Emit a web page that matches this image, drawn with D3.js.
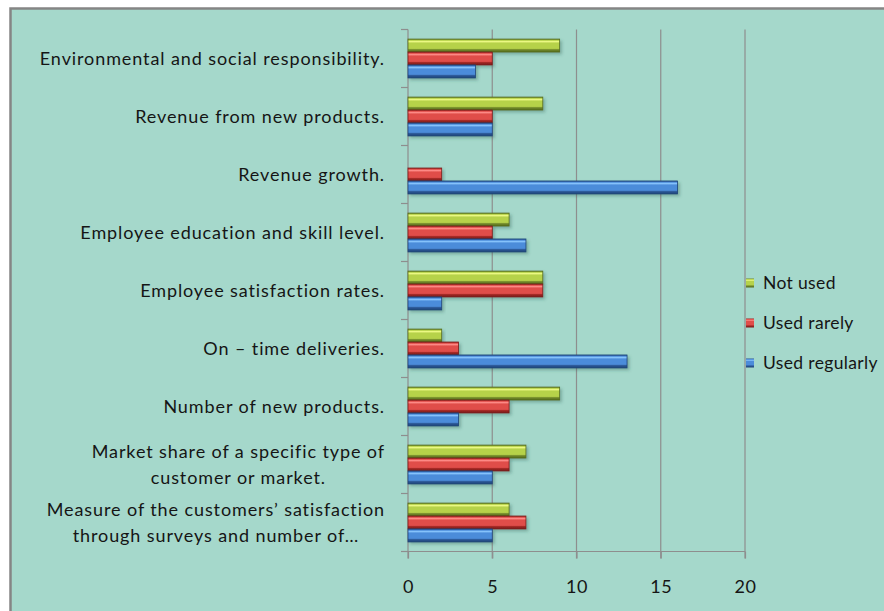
<!DOCTYPE html>
<html>
<head>
<meta charset="utf-8">
<script src="https://cdn.jsdelivr.net/npm/d3@7"></script>
<style>
  html, body { margin: 0; padding: 0; background: #ffffff; }
  svg { display: block; }
  text { font-family: "Lato", "Open Sans", sans-serif; fill: #151515; }
</style>
</head>
<body>
<svg id="chart" width="884" height="611"></svg>
<script>
// Measures (top to bottom), each may wrap to two lines
const categories = [
  ["Environmental and social responsibility."],
  ["Revenue from new products."],
  ["Revenue growth."],
  ["Employee education and skill level."],
  ["Employee satisfaction rates."],
  ["On – time deliveries."],
  ["Number of new products."],
  ["Market share of a specific type of", "customer or market."],
  ["Measure of the customers’ satisfaction", "through surveys and number of…"]
];
const seriesNames = ["Not used", "Used rarely", "Used regularly"];
const notUsed       = [9, 8, 0, 6, 8, 2, 9, 7, 6];
const usedRarely    = [5, 5, 2, 5, 8, 3, 6, 6, 7];
const usedRegularly = [4, 5, 16, 7, 2, 13, 3, 5, 5];
const xTicks = [0, 5, 10, 15, 20];

const seriesValues = [notUsed, usedRarely, usedRegularly];
const palette = [
  { light: "#eefa86", mid: "#b6d24a", dark: "#71892a", edge: "#566c1c" },
  { light: "#ff8e8a", mid: "#e04e4a", dark: "#9e2624", edge: "#7a1a18" },
  { light: "#8cc8ff", mid: "#4c8cda", dark: "#2b5796", edge: "#1f4478" }
];

const labelFont = 18;
const labelSpacing = 0.9;

const svg = d3.select("#chart");
const defs = svg.append("defs");

// Chart panel
svg.append("rect")
  .attr("x", 10.5).attr("y", 8.5)
  .attr("width", 900).attr("height", 700)
  .attr("fill", "#a5d8cb")
  .attr("stroke", "#858585").attr("stroke-width", 2.5);

const plot = { left: 408, right: 745, top: 29.5, bottom: 551.5 };

const x = d3.scaleLinear().domain([0, 20]).range([plot.left, plot.right]);
const y = d3.scaleBand().domain(d3.range(categories.length))
  .range([plot.top, plot.bottom]).paddingInner(0.33).paddingOuter(0.165);
const ySub = d3.scaleBand().domain(d3.range(seriesNames.length))
  .range([0, y.bandwidth()]);

// Bevel gradients for each series
palette.forEach((p, i) => {
  const g = defs.append("linearGradient")
    .attr("id", "bar" + i).attr("x1", 0).attr("y1", 0).attr("x2", 0).attr("y2", 1);
  g.append("stop").attr("offset", "0%").attr("stop-color", p.dark);
  g.append("stop").attr("offset", "10%").attr("stop-color", p.mid);
  g.append("stop").attr("offset", "18%").attr("stop-color", p.light);
  g.append("stop").attr("offset", "32%").attr("stop-color", p.mid);
  g.append("stop").attr("offset", "72%").attr("stop-color", p.mid);
  g.append("stop").attr("offset", "82%").attr("stop-color", p.dark);
  g.append("stop").attr("offset", "100%").attr("stop-color", p.edge);
});
const shadow = defs.append("filter").attr("id", "shadow")
  .attr("x", "-5%").attr("y", "-30%").attr("width", "115%").attr("height", "180%");
shadow.append("feDropShadow").attr("dx", 2).attr("dy", 2).attr("stdDeviation", 1.6)
  .attr("flood-color", "#2f5a50").attr("flood-opacity", 0.35);

// Gridlines
svg.append("g").selectAll("line")
  .data(xTicks.filter(t => t > 0)).join("line")
  .attr("x1", d => x(d)).attr("x2", d => x(d))
  .attr("y1", plot.top).attr("y2", plot.bottom + 7)
  .attr("stroke", "#8e8e8e").attr("stroke-width", 1.2);

// Bottom axis
const xAxis = svg.append("g").attr("transform", `translate(0,${plot.bottom})`)
  .call(d3.axisBottom(x).tickValues(xTicks).tickSize(7).tickPadding(22));
xAxis.select(".domain").attr("stroke", "#8e8e8e").attr("stroke-width", 1.2)
  .attr("d", `M${plot.left},0H${plot.right}`);
xAxis.selectAll(".tick line").attr("stroke", "#8e8e8e").attr("stroke-width", 1.2);
xAxis.selectAll(".tick text")
  .attr("font-size", 18).attr("letter-spacing", 0.6)
  .attr("font-family", "Lato, sans-serif").attr("fill", "#151515");

// Left axis with category separators
svg.append("line")
  .attr("x1", plot.left).attr("x2", plot.left)
  .attr("y1", plot.top).attr("y2", plot.bottom + 7)
  .attr("stroke", "#8e8e8e").attr("stroke-width", 1.2);
svg.append("g").selectAll("line")
  .data(d3.range(categories.length + 1)).join("line")
  .attr("x1", plot.left - 7).attr("x2", plot.left)
  .attr("y1", i => plot.top + i * (plot.bottom - plot.top) / categories.length)
  .attr("y2", i => plot.top + i * (plot.bottom - plot.top) / categories.length)
  .attr("stroke", "#8e8e8e").attr("stroke-width", 1.2);

// Bars
const groups = svg.append("g").selectAll("g")
  .data(categories.map((c, ci) => ci)).join("g")
  .attr("transform", ci => `translate(0,${y(ci)})`);
groups.selectAll("rect")
  .data(ci => seriesValues.map((vals, si) => ({ si, v: vals[ci] })).filter(d => d.v > 0))
  .join("rect")
  .attr("x", x(0))
  .attr("y", d => ySub(d.si))
  .attr("width", d => x(d.v) - x(0))
  .attr("height", ySub.bandwidth())
  .attr("fill", d => `url(#bar${d.si})`)
  .attr("stroke", d => palette[d.si].edge).attr("stroke-width", 0.8)
  .attr("filter", "url(#shadow)");

// Category labels: block right-aligned to the axis, lines centred within it
const labelRight = 385;
const labels = svg.append("g").selectAll("text")
  .data(categories.map((c, ci) => ({ c, ci }))).join("text")
  .attr("font-size", labelFont)
  .attr("letter-spacing", labelSpacing);
labels.each(function (d) {
  const t = d3.select(this);
  const cy = y(d.ci) + y.bandwidth() / 2;
  const n = d.c.length;
  const spans = d.c.map((line, li) =>
    t.append("tspan")
      .attr("y", cy + (li - (n - 1) / 2) * 26.5)
      .attr("dy", "0.35em")
      .text(line));
  const widths = spans.map(s => s.node().getComputedTextLength());
  const maxW = d3.max(widths);
  const centre = labelRight - maxW / 2;
  spans.forEach((s, i) => s.attr("x", centre - widths[i] / 2));
});

// Legend
const legend = svg.append("g").selectAll("g")
  .data(seriesNames).join("g")
  .attr("transform", (d, i) => `translate(746,${283 + i * 40})`);
legend.append("rect")
  .attr("x", 0).attr("y", -4.5).attr("width", 8).attr("height", 9)
  .attr("fill", (d, i) => `url(#bar${i})`);
legend.append("text")
  .attr("x", 17).attr("dy", "0.35em")
  .attr("font-size", 17.5).attr("letter-spacing", 0.35)
  .text(d => d);
</script>
</body>
</html>
